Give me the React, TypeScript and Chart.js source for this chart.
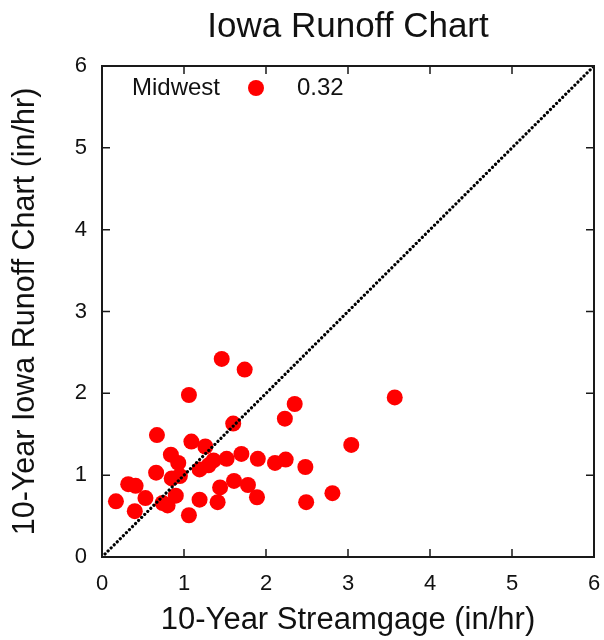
import React, { useEffect, useRef } from "react";
import { Chart, registerables } from "chart.js";

Chart.register(...registerables);

const chartTitle = "Iowa Runoff Chart";
const xAxisTitle = "10-Year Streamgage (in/hr)";
const yAxisTitle = "10-Year Iowa Runoff Chart (in/hr)";
const seriesName = "Midwest";
const seriesStat = "0.32";

const streamgage = [
  1.46, 1.74, 1.06, 3.57, 2.35, 2.23, 1.6, 0.67, 1.09, 1.26, 3.04, 0.84, 1.7,
  1.52, 1.36, 1.9, 2.11, 2.24, 0.93, 1.3, 2.48, 1.19, 0.66, 0.95, 0.85, 0.32,
  0.41, 1.61, 1.78, 1.44, 2.81, 0.17, 0.53, 0.9, 1.89, 0.74, 0.8, 1.19, 1.41,
  2.49, 0.4, 1.06,
];
const runoffChart = [
  2.42, 2.29, 1.98, 1.95, 1.87, 1.69, 1.63, 1.49, 1.41, 1.35, 1.37, 1.25, 1.26,
  1.2, 1.18, 1.2, 1.15, 1.19, 1.15, 1.12, 1.1, 1.07, 1.03, 0.99, 0.96, 0.89,
  0.87, 0.93, 0.88, 0.85, 0.78, 0.68, 0.72, 0.75, 0.73, 0.66, 0.63, 0.7, 0.67,
  0.67, 0.56, 0.51,
];
const oneToOneLine = [0, 6];
const tickValues = [0, 1, 2, 3, 4, 5, 6];

const FONT = "'Liberation Sans', Arial, Helvetica, sans-serif";
const INK = "#111111";

const framePlugin = {
  id: "frameAndLegend",
  afterDraw(chart: any) {
    const { ctx, chartArea } = chart;
    const { left, right, top, bottom } = chartArea;
    const xs = chart.scales.x;
    const ys = chart.scales.y;
    ctx.save();
    ctx.strokeStyle = "#1a1a1a";
    ctx.lineWidth = 2;
    ctx.strokeRect(left, top, right - left, bottom - top);
    ctx.lineWidth = 1.5;
    const tl = 8;
    ctx.beginPath();
    tickValues.forEach((v) => {
      const px = xs.getPixelForValue(v);
      ctx.moveTo(px, bottom);
      ctx.lineTo(px, bottom - tl);
      ctx.moveTo(px, top);
      ctx.lineTo(px, top + tl);
      const py = ys.getPixelForValue(v);
      ctx.moveTo(left, py);
      ctx.lineTo(left + tl, py);
      ctx.moveTo(right, py);
      ctx.lineTo(right - tl, py);
    });
    ctx.stroke();

    // legend row
    const ly = top + 22;
    ctx.font = `24px ${FONT}`;
    ctx.fillStyle = INK;
    ctx.textBaseline = "middle";
    ctx.textAlign = "left";
    ctx.fillText(seriesName, left + 30, ly);
    ctx.fillStyle = "#ff0000";
    ctx.beginPath();
    ctx.arc(left + 154, ly, 8, 0, Math.PI * 2);
    ctx.fill();
    ctx.fillStyle = INK;
    ctx.fillText(seriesStat, left + 195, ly);
    ctx.restore();
  },
};

export default function App() {
  const ref = useRef<HTMLCanvasElement | null>(null);

  useEffect(() => {
    if (!ref.current) return;
    const points = streamgage.map((x, i) => ({ x, y: runoffChart[i] }));
    const diag = oneToOneLine.map((v) => ({ x: v, y: v }));
    const chart = new Chart(ref.current, {
      type: "scatter",
      data: {
        datasets: [
          {
            type: "line",
            label: "1:1",
            data: diag,
            borderColor: "#000000",
            borderWidth: 3.2,
            borderDash: [0.01, 4.3],
            borderCapStyle: "round",
            pointRadius: 0,
            fill: false,
            order: 0,
          } as any,
          {
            label: seriesName,
            data: points,
            backgroundColor: "#ff0000",
            borderWidth: 0,
            pointRadius: 8,
            pointHoverRadius: 8,
            order: 1,
          },
        ],
      },
      options: {
        responsive: false,
        animation: false,
        devicePixelRatio: 1,
        layout: { padding: { left: 0, right: 10, top: 0, bottom: 0 } },
        plugins: {
          legend: { display: false },
          tooltip: { enabled: false },
          title: {
            display: true,
            text: chartTitle,
            fullSize: false,
            color: INK,
            font: { family: FONT, size: 35, weight: "normal" },
            padding: { top: 6, bottom: 18 },
          },
        },
        scales: {
          x: {
            type: "linear",
            min: 0,
            max: 6,
            afterFit: (s: any) => {
              s.height = 83;
              s.paddingLeft = 0;
              s.paddingRight = 0;
            },
            ticks: {
              stepSize: 1,
              color: INK,
              padding: 14,
              font: { family: FONT, size: 22 },
            },
            grid: { display: false, drawTicks: false },
            border: { display: false },
            title: {
              display: true,
              text: xAxisTitle,
              color: INK,
              font: { family: FONT, size: 31 },
              padding: { top: 0, bottom: 1 },
            },
          },
          y: {
            type: "linear",
            min: 0,
            max: 6,
            afterFit: (s: any) => {
              s.width = 102;
              s.paddingTop = 0;
              s.paddingBottom = 0;
            },
            ticks: {
              stepSize: 1,
              color: INK,
              padding: 15,
              font: { family: FONT, size: 22 },
            },
            grid: { display: false, drawTicks: false },
            border: { display: false },
            title: {
              display: true,
              text: yAxisTitle,
              color: INK,
              font: { family: FONT, size: 30.5 },
              padding: { top: 7, bottom: 0 },
            },
          },
        },
      },
      plugins: [framePlugin],
    });
    return () => chart.destroy();
  }, []);

  return (
    <div style={{ position: "absolute", left: 0, top: 0, width: 604, height: 640, background: "#ffffff" }}>
      <canvas ref={ref} width={604} height={640} />
    </div>
  );
}
